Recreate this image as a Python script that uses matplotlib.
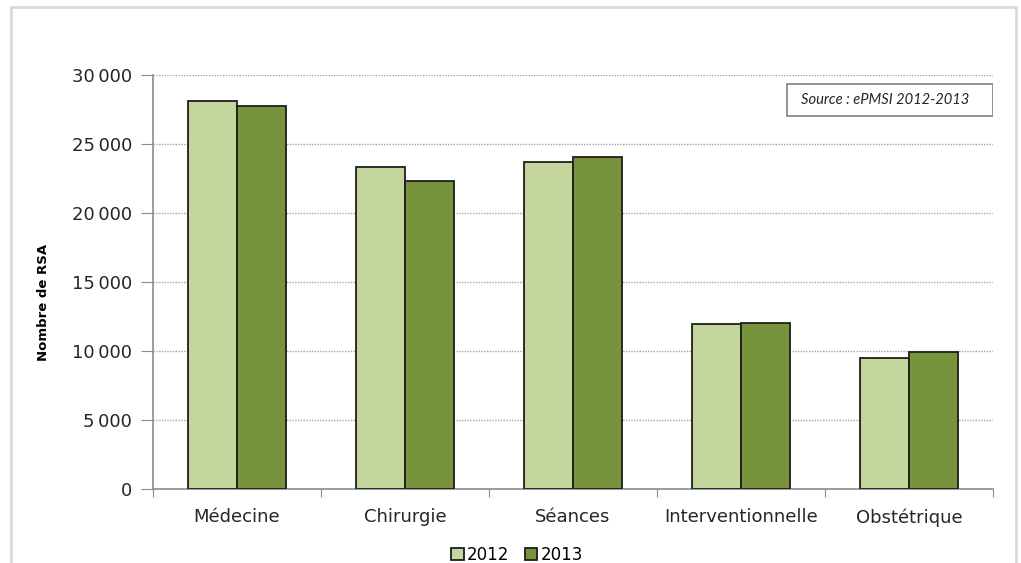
import matplotlib
matplotlib.use("Agg")
import matplotlib.pyplot as plt
import numpy as np
from matplotlib.patches import Rectangle

categories = ["Médecine", "Chirurgie", "Séances", "Interventionnelle", "Obstétrique"]
rsa_2012 = [28150, 23300, 23700, 11950, 9520]
rsa_2013 = [27750, 22330, 24050, 12050, 9960]
years = ["2012", "2013"]
yticks = [0, 5000, 10000, 15000, 20000, 25000, 30000]

LIGHT = "#C4D69B"
DARK = "#77933C"
GREY = "#8C8C8C"

plt.rcParams['font.family'] = ['DejaVu Sans']

fig = plt.figure(figsize=(10.21, 5.63), dpi=100)
# outer chart frame
fig.patches.append(Rectangle((11 / 1021, -0.1), (1016 - 11) / 1021, 1.1 - 7 / 563,
                             transform=fig.transFigure, fill=False,
                             edgecolor="#D9D9D9", linewidth=2))

ax = fig.add_axes([153 / 1021, 1 - 489 / 563, (993 - 153) / 1021, (489 - 75) / 563])

x = np.arange(len(categories))
w = 0.29
ax.bar(x - w / 2, rsa_2012, w, color=LIGHT, edgecolor="#1E1E1E", linewidth=1.3, label=years[0], zorder=3)
ax.bar(x + w / 2, rsa_2013, w, color=DARK, edgecolor="#1E1E1E", linewidth=1.3, label=years[1], zorder=3)

ax.set_xlim(-0.5, len(categories) - 0.5)
ax.set_ylim(0, 30000)
ax.set_yticks(yticks)
ax.set_yticklabels([f"{v:,}".replace(",", "\u2009") for v in yticks], fontsize=13, color="#262626")
ax.yaxis.grid(True, linestyle=(0, (1, 1)), color="#A6A6A6", linewidth=1, zorder=0)

# category ticks sit on the boundaries, labels in the middle
ax.set_xticks(np.arange(len(categories) + 1) - 0.5)
ax.set_xticklabels([])
ax.set_xticks(x, minor=True)
ax.set_xticklabels(categories, minor=True, fontsize=13, color="#262626")
ax.tick_params(axis="x", which="minor", length=0, pad=14)
ax.tick_params(axis="x", which="major", length=6, color=GREY, direction="out")
ax.tick_params(axis="y", length=9, color=GREY, pad=6)

for side in ["top", "right"]:
    ax.spines[side].set_visible(False)
for side in ["left", "bottom"]:
    ax.spines[side].set_color(GREY)
    ax.spines[side].set_linewidth(1.2)

ax.set_ylabel("Nombre de RSA", fontsize=9.5, fontweight="bold")
ax.yaxis.set_label_coords((50 - 153) / 840, 0.45)

# source box in the top right corner
ax.add_patch(Rectangle((0.7548, 0.901), 0.2452, 0.077, transform=ax.transAxes,
                       facecolor="white", edgecolor="#7F7F7F", linewidth=1.2, zorder=5))
ax.text(0.8714, 0.9396, "Source : ePMSI 2012-2013", transform=ax.transAxes,
        ha="center", va="center", fontsize=10.6, style="italic", color="#262626",
        family="Lato", zorder=6)

fig.legend(loc="center", bbox_to_anchor=(517 / 1021, 1 - 555 / 563), ncol=2, frameon=False,
           fontsize=12, handlelength=0.75, handleheight=0.75, handletextpad=0.2,
           columnspacing=0.9, borderaxespad=0)

fig.savefig("out.png", dpi=100)
